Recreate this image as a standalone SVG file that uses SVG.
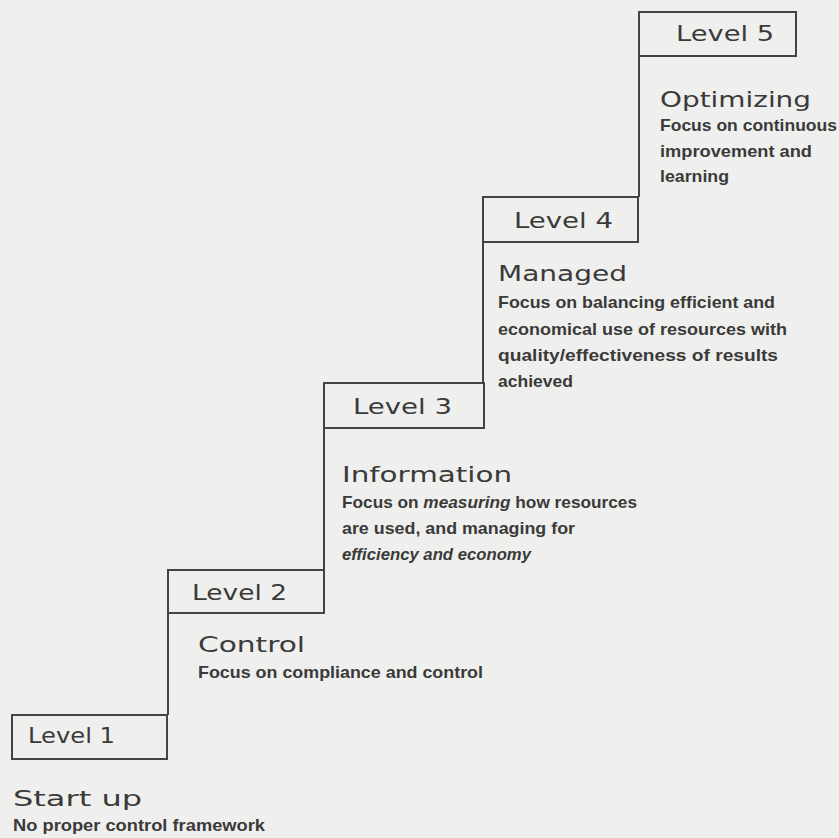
<svg xmlns="http://www.w3.org/2000/svg" width="839" height="838" viewBox="0 0 839 838">
<style>
.bg{fill:#efefed}
.box{fill:none;stroke:#444;stroke-width:2}
.conn{fill:none;stroke:#444;stroke-width:2}
.lvl{font-family:"DejaVu Sans","Liberation Sans",sans-serif;font-size:22px;fill:#3a3a3a}
.head{font-family:"DejaVu Sans","Liberation Sans",sans-serif;font-size:21px;fill:#3a3a3a}
.body{font-family:"Liberation Sans","DejaVu Sans",sans-serif;font-size:17px;font-weight:bold;fill:#3a3a3a}
.it{font-style:italic}
</style>
<rect class="bg" x="0" y="0" width="839" height="838"/>
<g id="connectors">
<line class="conn" x1="168" y1="613" x2="168" y2="715"/>
<line class="conn" x1="324" y1="428" x2="324" y2="570"/>
<line class="conn" x1="483" y1="242" x2="483" y2="383"/>
<line class="conn" x1="639" y1="56" x2="639" y2="197"/>
</g>
<g id="level1">
<rect class="box" x="12" y="715" width="155" height="44"/>
<text class="lvl" x="28" y="743" textLength="87" lengthAdjust="spacingAndGlyphs">Level 1</text>
<text class="head" x="13" y="806" textLength="129" lengthAdjust="spacingAndGlyphs">Start up</text>
<text class="body" x="13" y="831" textLength="252" lengthAdjust="spacingAndGlyphs">No proper control framework</text>
</g>
<g id="level2">
<rect class="box" x="168" y="570" width="156" height="43"/>
<text class="lvl" x="192" y="600" textLength="95" lengthAdjust="spacingAndGlyphs">Level 2</text>
<text class="head" x="198" y="652" textLength="107" lengthAdjust="spacingAndGlyphs">Control</text>
<text class="body" x="198" y="678" textLength="285" lengthAdjust="spacingAndGlyphs">Focus on compliance and control</text>
</g>
<g id="level3">
<rect class="box" x="324" y="383" width="160" height="45"/>
<text class="lvl" x="353" y="414" textLength="99" lengthAdjust="spacingAndGlyphs">Level 3</text>
<text class="head" x="342" y="482" textLength="170" lengthAdjust="spacingAndGlyphs">Information</text>
<text class="body" x="342" y="508" textLength="295" lengthAdjust="spacingAndGlyphs">Focus on <tspan class="it">measuring</tspan> how resources</text>
<text class="body" x="342" y="534" textLength="233" lengthAdjust="spacingAndGlyphs">are used, and managing for</text>
<text class="body it" x="342" y="560" textLength="189" lengthAdjust="spacingAndGlyphs">efficiency and economy</text>
</g>
<g id="level4">
<rect class="box" x="483" y="197" width="155" height="45"/>
<text class="lvl" x="514" y="228" textLength="99" lengthAdjust="spacingAndGlyphs">Level 4</text>
<text class="head" x="498" y="281" textLength="129" lengthAdjust="spacingAndGlyphs">Managed</text>
<text class="body" x="498" y="308" textLength="277" lengthAdjust="spacingAndGlyphs">Focus on balancing efficient and</text>
<text class="body" x="498" y="335" textLength="289" lengthAdjust="spacingAndGlyphs">economical use of resources with</text>
<text class="body" x="498" y="361" textLength="280" lengthAdjust="spacingAndGlyphs">quality/effectiveness of results</text>
<text class="body" x="498" y="387" textLength="75" lengthAdjust="spacingAndGlyphs">achieved</text>
</g>
<g id="level5">
<rect class="box" x="639" y="12" width="157" height="44"/>
<text class="lvl" x="676" y="41" textLength="98" lengthAdjust="spacingAndGlyphs">Level 5</text>
<text class="head" x="660" y="107" textLength="151" lengthAdjust="spacingAndGlyphs">Optimizing</text>
<text class="body" x="660" y="131" textLength="177" lengthAdjust="spacingAndGlyphs">Focus on continuous</text>
<text class="body" x="660" y="157" textLength="152" lengthAdjust="spacingAndGlyphs">improvement and</text>
<text class="body" x="660" y="182" textLength="69" lengthAdjust="spacingAndGlyphs">learning</text>
</g>
</svg>
